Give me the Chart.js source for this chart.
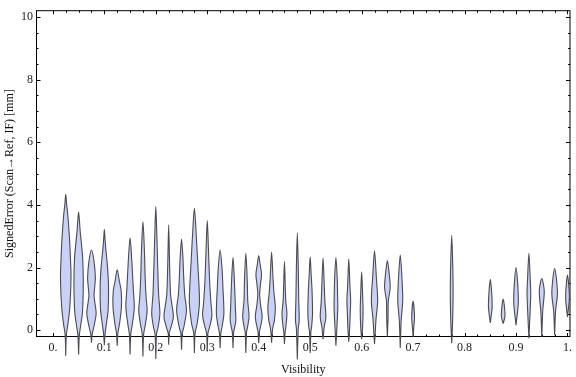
<!DOCTYPE html>
<html>
<head>
<meta charset="utf-8">
<script src="https://cdn.jsdelivr.net/npm/chart.js@4.4.0/dist/chart.umd.min.js"></script>
<style>
  html, body { margin: 0; padding: 0; background: #fff; }
  #wrap { width: 576px; height: 377px; position: relative; }
</style>
</head>
<body>
<div id="wrap"><canvas id="violins"></canvas></div>
<script>
// violin centres (Visibility bins)
const VIS = [0.025, 0.05, 0.075, 0.1, 0.125, 0.15, 0.175, 0.2, 0.225, 0.25,
             0.275, 0.3, 0.325, 0.35, 0.375, 0.4, 0.425, 0.45, 0.475, 0.5,
             0.525, 0.55, 0.575, 0.6, 0.625, 0.65, 0.675, 0.7, 0.775,
             0.85, 0.875, 0.9, 0.925, 0.95, 0.975, 1.0];
// min / max of the signed error in each bin
const LO = [-0.82, -0.78, -0.4, -0.48, -0.5, -0.78, -0.84, -0.92, -0.47, -0.63,
            -0.73, -0.68, -0.57, -0.57, -0.73, -0.42, -0.4, -0.44, -0.94, -0.73,
            -0.29, -0.5, -0.37, -0.29, -0.44, -0.21, -0.57, -0.21, -0.42,
            0.23, 0.21, 0.16, -0.26, -0.21, -0.16, 0.42];
const HI = [4.34, 3.78, 2.56, 3.22, 1.93, 2.95, 3.47, 3.95, 3.36, 2.9,
            3.89, 3.5, 2.56, 2.32, 2.45, 2.38, 2.49, 2.19, 3.11, 2.34,
            2.3, 2.32, 2.28, 1.86, 2.53, 2.22, 2.4, 0.92, 3.03,
            1.62, 0.99, 2.0, 2.45, 1.65, 1.97, 1.76];
// density profile per bin: [error, relative width]
const PROFILE = [
  [[-0.16, 1.2], [0.2, 4.7], [0.73, 8.7], [1.67, 11.3], [2.3, 10], [2.93, 8], [3.66, 4.5], [4.0, 2]],
  [[-0.16, 1.5], [0.1, 4], [0.53, 8], [1.0, 9.5], [1.57, 10], [2.2, 9], [2.61, 7], [3.13, 3.5]],
  [[-0.13, 1.5], [0.1, 5], [0.52, 10], [0.8, 8], [1.1, 5.5], [1.4, 7], [1.67, 8.3], [2.19, 5.5]],
  [[-0.13, 1.5], [0.16, 4], [0.63, 8], [1.36, 9], [1.98, 7], [2.61, 3], [2.9, 1.5]],
  [[-0.1, 1.5], [0.21, 5], [0.73, 9], [1.25, 8.5], [1.57, 4.5]],
  [[-0.13, 1.5], [0.21, 5], [0.73, 9], [1.3, 7], [1.57, 6], [2.4, 3]],
  [[-0.13, 1.5], [0.16, 5], [0.63, 9], [1.0, 7], [1.57, 5], [2.61, 3]],
  [[-0.13, 1.5], [0.1, 5], [0.52, 8.7], [1.15, 6], [2.09, 4], [3.13, 2]],
  [[-0.1, 1], [0.05, 4], [0.42, 10], [0.8, 7], [1.15, 4], [2.09, 2]],
  [[-0.1, 1.5], [0.1, 5], [0.63, 10.5], [1.1, 7], [1.57, 5], [2.3, 3]],
  [[-0.1, 1.5], [0.21, 6], [0.84, 10.7], [1.36, 10], [2.19, 7], [3.03, 4]],
  [[-0.1, 1.5], [0.1, 5], [0.47, 10], [0.84, 8], [1.57, 5], [2.61, 2.5]],
  [[-0.1, 1.5], [0.1, 4], [0.52, 8], [1.36, 6], [1.98, 4]],
  [[-0.05, 1.5], [0.05, 3], [0.31, 6], [0.73, 5], [1.57, 3]],
  [[-0.05, 1.5], [0.05, 3], [0.42, 6.7], [0.94, 4], [1.57, 3]],
  [[-0.05, 1.5], [0.05, 3], [0.42, 7.3], [0.8, 4], [1.15, 2], [1.5, 4], [1.78, 6], [2.1, 3]],
  [[-0.05, 1.5], [0.1, 3], [0.31, 6], [0.73, 8], [1.2, 5], [1.67, 3]],
  [[-0.05, 1.5], [0.1, 3], [0.52, 5.3], [0.9, 3], [1.25, 2]],
  [[0.05, 2], [0.31, 4], [1.0, 3], [2.0, 2]],
  [[-0.05, 1.5], [0.1, 3], [0.52, 5], [1.25, 4], [1.8, 2]],
  [[-0.05, 1.5], [0.1, 2.5], [0.42, 6], [0.9, 4], [1.25, 3]],
  [[0.21, 2.5], [0.73, 4], [1.2, 3.5], [1.57, 3]],
  [[0.1, 2], [0.52, 3], [0.94, 4], [1.4, 2.5], [1.6, 2]],
  [[0.1, 2], [0.63, 3], [1.15, 2]],
  [[-0.1, 1.5], [0.31, 3], [0.94, 6.7], [1.67, 4]],
  [[0.4, 1.5], [0.94, 2], [1.36, 6], [1.78, 4]],
  [[0.31, 2], [0.94, 5.3], [1.57, 4]],
  [[0.1, 1.5], [0.42, 3]],
  [[0.3, 2], [1.25, 3], [2.2, 2]],
  [[0.78, 4]],
  [[0.47, 4]],
  [[0.94, 5]],
  [[0.4, 2], [1.15, 4], [1.57, 3]],
  [[0.6, 2], [1.25, 5.3]],
  [[0.6, 2], [1.2, 6]],
  [[1.04, 4]]
];

const X_TICKS = [0, 0.1, 0.2, 0.3, 0.4, 0.5, 0.6, 0.7, 0.8, 0.9, 1.0];
const X_LABELS = ['0.', '0.1', '0.2', '0.3', '0.4', '0.5', '0.6', '0.7', '0.8', '0.9', '1.'];
const Y_TICKS = [0, 2, 4, 6, 8, 10];

const HALF = 1 / 1100; // relative width -> half width in Visibility units

function violinPoints(i) {
  const x0 = VIS[i];
  const knots = [[LO[i], 0], ...PROFILE[i], [HI[i], 0]];
  const right = knots.map(([v, w]) => ({ x: x0 + w * HALF, y: v }));
  const left = knots.slice(1, -1).reverse().map(([v, w]) => ({ x: x0 - w * HALF, y: v }));
  return [...right, ...left, right[0]];
}

const datasets = VIS.map((v, i) => ({
  data: violinPoints(i),
  fill: 'shape',
  backgroundColor: 'rgb(202,209,246)',
  borderColor: '#4b4b52',
  borderWidth: 1.1,
  pointRadius: 0,
  tension: 0.3,
  clip: false
}));

// frame with inward ticks on all four sides, like the original plot
const frameTicks = {
  id: 'frameTicks',
  beforeDatasetsDraw(chart) {
    const { ctx, chartArea: a, scales: { x, y } } = chart;
    ctx.save();
    ctx.strokeStyle = '#000';
    ctx.lineWidth = 1;
    ctx.beginPath();
    for (let k = 0; k <= 40; k++) {
      const px = Math.round(x.getPixelForValue(k * 0.025)) + 0.5;
      const len = k % 4 === 0 ? 4 : 2.5;
      ctx.moveTo(px, a.bottom); ctx.lineTo(px, a.bottom - len);
      ctx.moveTo(px, a.top); ctx.lineTo(px, a.top + len);
    }
    for (let k = 0; k <= 20; k++) {
      const py = Math.round(y.getPixelForValue(k * 0.5)) + 0.5;
      const len = k % 4 === 0 ? 4.5 : 2.5;
      ctx.moveTo(a.left, py); ctx.lineTo(a.left + len, py);
      ctx.moveTo(a.right, py); ctx.lineTo(a.right - len, py);
    }
    ctx.stroke();
    ctx.strokeRect(a.left + 0.5, a.top + 0.5, a.right - a.left - 1, a.bottom - a.top - 1);
    ctx.restore();
  }
};

const font = { family: '"Liberation Serif", "Times New Roman", serif', size: 12 };

new Chart(document.getElementById('violins'), {
  type: 'line',
  data: { datasets },
  plugins: [frameTicks],
  options: {
    responsive: true,
    maintainAspectRatio: false,
    animation: false,
    layout: { padding: { top: 4, right: 1 } },
    plugins: { legend: { display: false }, tooltip: { enabled: false } },
    scales: {
      x: {
        type: 'linear',
        min: -0.0328,
        max: 1.0058,
        grid: { display: false, drawTicks: false },
        border: { display: false },
        afterBuildTicks: s => { s.ticks = X_TICKS.map(v => ({ value: v })); },
        afterFit: s => { s.height = 40; },
        ticks: {
          font, color: '#222', padding: 4, maxRotation: 0, autoSkip: false,
          callback: (v, i) => X_LABELS[i]
        },
        title: { display: true, text: 'Visibility', font, color: '#111', padding: { top: 2, bottom: 0 } }
      },
      y: {
        type: 'linear',
        min: -0.22,
        max: 10.22,
        grid: { display: false, drawTicks: false },
        border: { display: false },
        afterBuildTicks: s => { s.ticks = Y_TICKS.map(v => ({ value: v })); },
        afterFit: s => { s.width = 36; },
        ticks: { font, color: '#222', padding: 3 },
        title: {
          display: true, text: 'SignedError (Scan\u2192Ref, IF) [mm]', font, color: '#111',
          padding: { top: 3, bottom: 0 }
        }
      }
    }
  }
});
</script>
</body>
</html>
